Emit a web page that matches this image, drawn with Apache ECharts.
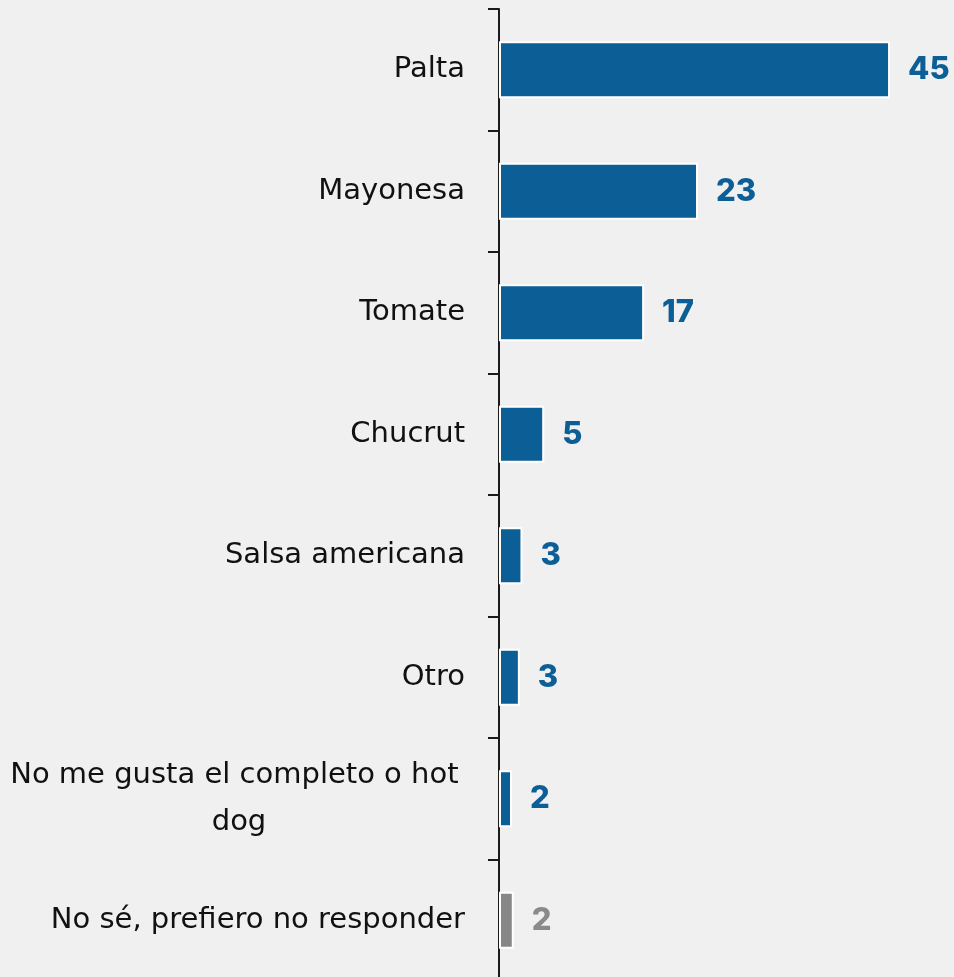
<!DOCTYPE html>
<html>
<head>
<meta charset="utf-8">
<script src="https://cdn.jsdelivr.net/npm/echarts@6/dist/echarts.min.js"></script>
<style>
html,body{margin:0;padding:0;background:#f1f0f0;}
#chart{width:954px;height:977px;}
</style>
</head>
<body>
<div id="chart"></div>
<script>
const categories = ['Palta','Mayonesa','Tomate','Chucrut','Salsa americana','Otro','No me gusta el completo o hot dog','No sé, prefiero no responder'];
const values = [45, 22.9, 16.7, 5.2, 2.7, 2.4, 1.5, 1.7];
const valueLabels = ['45','23','17','5','3','3','2','2'];
const barColors = ['#0c5e96','#0c5e96','#0c5e96','#0c5e96','#0c5e96','#0c5e96','#0c5e96','#878787'];
const labelColors = ['#0c5e96','#0c5e96','#0c5e96','#0c5e96','#0c5e96','#0c5e96','#0c5e96','#8a8a8a'];

const catData = categories.map(c => {
  if (c.length > 30) {
    return {value: c, textStyle: {align: 'center', padding: [17, 452, 0, 0]}};
  }
  return c;
});

const chart = echarts.init(document.getElementById('chart'), null, {renderer:'canvas'});
chart.setOption({
  backgroundColor: '#f1f0f0',
  animation: false,
  grid: {left: 499, right: 20.5, top: 9, bottom: -4, containLabel: false, outerBoundsMode: 'none'},
  xAxis: {type:'value', min:0, max:50, show:false},
  yAxis: {
    type:'category', inverse:true, data:catData,
    axisLine:{show:true, lineStyle:{color:'#1a1a1a', width:2}},
    axisTick:{show:true, length:11, lineStyle:{color:'#1a1a1a', width:2}},
    axisLabel:{
      margin: 34, color:'#111', fontFamily:'DejaVu Sans', fontSize:29, align:'right',
      width: 458, overflow:'break', lineHeight:47
    }
  },
  series:[{
    type:'bar', barWidth:57,
    data: values.map((v,i)=>({value:v, itemStyle:{color:barColors[i]}, label:{color:labelColors[i]}})),
    itemStyle:{borderColor:'#ffffff', borderWidth:2},
    label:{show:true, position:'right', distance:18, fontFamily:'Inter', fontWeight:800, fontSize:31,
      formatter: p => valueLabels[p.dataIndex]}
  }]
});
</script>
</body>
</html>
